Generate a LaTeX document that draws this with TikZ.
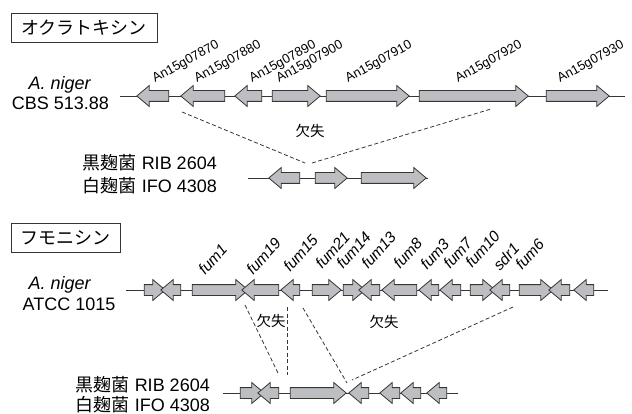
\documentclass[tikz,border=0pt]{standalone}
\usepackage{fontspec}
\setmainfont{Liberation Sans}
\newfontfamily\jp{Noto Sans CJK JP}
\usetikzlibrary{shapes.arrows}
\definecolor{genefill}{HTML}{BDBEC1}
\definecolor{geneline}{HTML}{363636}

\begin{document}
\begin{tikzpicture}[x=1pt, y=-1pt,
    gene/.style={single arrow, draw=geneline, fill=genefill, line width=0.8pt, inner xsep=0pt, inner ysep=5pt, text height=0pt, text depth=0pt, single arrow head extend=5pt, single arrow tip angle=80, outer sep=0pt, minimum width=20pt},
    glabel/.style={anchor=base west, rotate=29, font=\fontsize{13}{14}\selectfont, inner sep=0pt},
    flabel/.style={glabel, rotate=19, font=\fontsize{15.5}{16}\selectfont\itshape},
    title/.style={draw=geneline, line width=0.7pt, font=\fontsize{18}{20}\selectfont\jp, minimum height=29pt, inner sep=0pt},
    species/.style={font=\fontsize{18}{20}\selectfont, inner sep=0pt},
    gap/.style={font=\fontsize{14.5}{16}\selectfont\jp, inner sep=0pt},
    cut/.style={geneline, line width=0.8pt, dash pattern=on 4pt off 2.5pt},
    track/.style={geneline, line width=0.8pt}]
  \useasboundingbox (0,0) rectangle (632,414);

  % ochratoxin cluster
  \node[title, minimum width=146pt] (ota) at (84,27.5) {オクラトキシン};
  \node[species, anchor=base] (otasp) at (60,90) {\textit{A. niger}};
  \node[species, anchor=base] (otast) at (60.5,110) {CBS 513.88};
  \coordinate (ota0) at (120,96);
  \coordinate (ota1) at (625,96);
  \draw[track] (ota0) -- (ota1);
  \foreach \a/\b/\r/\s/\n in {140/172/180/155/07870, 184/228/180/197/07880, 238/265/180/252/07890,
      269/317/0/279/07900, 323/406/0/348/07910, 416/525/0/458/07920, 543/606/0/560/07930} {
    \node[gene, shape border rotate=\r, minimum height={(\b-\a)*1pt}] (g\n) at ({(\a+\b)/2},96) {};
    \node[glabel] (l\n) at (\s,83) {An15g\n};
  }

  \node[species, anchor=base east] (rib1) at (217,170) {{\jp 黒麹菌} RIB 2604};
  \node[species, anchor=base east] (ifo1) at (217,193) {{\jp 白麹菌} IFO 4308};
  \coordinate (kk0) at (248,178);
  \coordinate (kk1) at (428,178);
  \draw[track] (kk0) -- (kk1);
  \node[gene, shape border rotate=180, minimum height=31pt] (k1) at (287.5,178) {};
  \node[gene, minimum height=32pt] (k2) at (328,178) {};
  \node[gene, minimum height=65pt] (k3) at (390.5,178) {};

  \coordinate (c1a) at (182,112);
  \coordinate (c1b) at (305,163);
  \coordinate (c2a) at (312,163);
  \coordinate (c2b) at (491,109);
  \draw[cut] (c1a) -- (c1b);
  \draw[cut] (c2a) -- (c2b);
  \node[gap] (del1) at (310,131) {欠失};

  % fumonisin cluster
  \node[title, minimum width=109pt] (fum) at (65.5,237.5) {フモニシン};
  \node[species, anchor=base] (fumsp) at (60,289) {\textit{A. niger}};
  \node[species, anchor=base] (fumst) at (69,310) {ATCC 1015};
  \coordinate (fum0) at (126,290);
  \coordinate (fum1) at (608,290);
  \draw[track] (fum0) -- (fum1);
  \foreach \a/\b/\r/\n in {141/162/0/f1, 164/184/180/f2, 189/245/0/f3, 245/282/180/f4, 284/303/180/f5,
      309/338/0/f6, 340/362/0/f7, 362/383/180/f8, 385/420/180/f9, 422/442/180/f10, 443/464/180/f11,
      467/492/0/f12, 493/513/180/f13, 516/550/0/f14, 552/573/180/f15, 577/597/180/f16} {
    \node[gene, shape border rotate=\r, minimum height={(\b-\a)*1pt}] (\n) at ({(\a+\b)/2},290) {};
  }
  \foreach \s/\y/\t in {205/276/fum1, 253/276/fum19, 290/273/fum15, 322/270/fum21, 343/270/fum14,
      368/270/fum13, 400/270/fum8, 427/271/fum3, 450/270/fum7, 472/269/fum10, 500/272/sdr1, 522/271/fum6} {
    \node[flabel] (\t) at (\s,\y) {\t};
  }

  \node[species, anchor=base east] (rib2) at (210,391) {{\jp 黒麹菌} RIB 2604};
  \node[species, anchor=base east] (ifo2) at (210,411) {{\jp 白麹菌} IFO 4308};
  \coordinate (bb0) at (223,393);
  \coordinate (bb1) at (458,393);
  \draw[track] (bb0) -- (bb1);
  \foreach \a/\b/\r/\n in {237/261/0/b1, 261/282/180/b2, 287/343/0/b3, 352/372/180/b4,
      383/403/180/b5, 404/424/180/b6, 430/450/180/b7} {
    \node[gene, shape border rotate=\r, minimum height={(\b-\a)*1pt}] (\n) at ({(\a+\b)/2},393) {};
  }

  \coordinate (e1a) at (245,305);
  \coordinate (e1b) at (278,373);
  \coordinate (e2a) at (287,307);
  \coordinate (e2b) at (287,375);
  \coordinate (e3a) at (303,308);
  \coordinate (e3b) at (347,383);
  \coordinate (e4a) at (513,307);
  \coordinate (e4b) at (352,380);
  \draw[cut] (e1a) -- (e1b);
  \draw[cut] (e2a) -- (e2b);
  \draw[cut] (e3a) -- (e3b);
  \draw[cut] (e4a) -- (e4b);
  \node[gap] (del2) at (271,321) {欠失};
  \node[gap] (del3) at (384,322) {欠失};
\end{tikzpicture}
\end{document}
